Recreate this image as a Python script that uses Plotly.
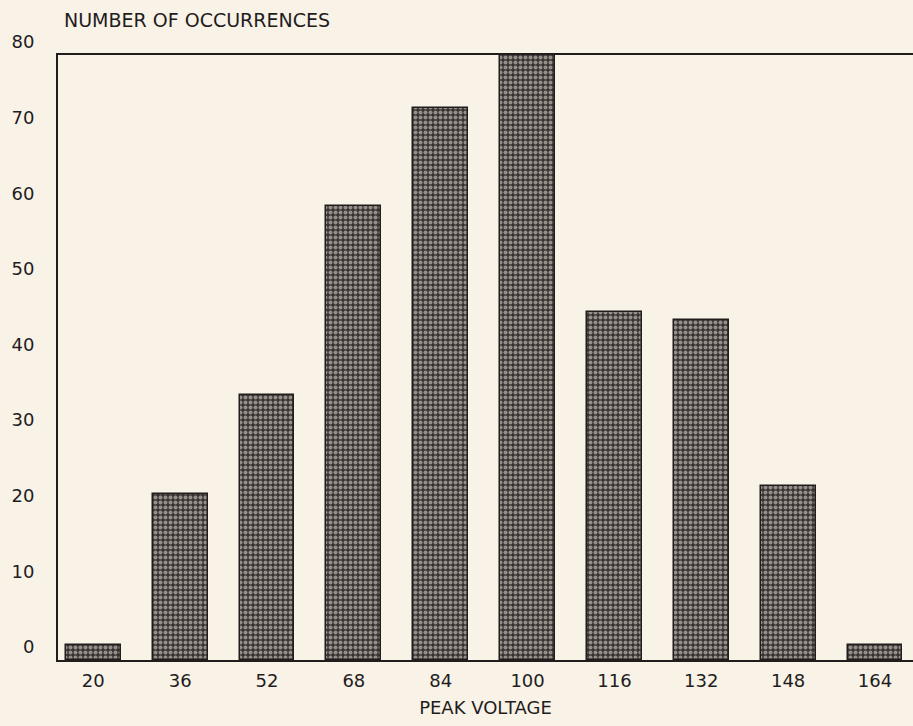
import plotly.graph_objects as go

peak_voltage = [20, 36, 52, 68, 84, 100, 116, 132, 148, 164]
occurrences = [2, 22, 35, 60, 73, 80, 46, 45, 23, 2]
y_ticks = [0, 10, 20, 30, 40, 50, 60, 70, 80]

bg = "#f8f2e7"
ink = "#231c1c"
bar_dark = "#3b3333"

fig = go.Figure(go.Bar(
    x=peak_voltage, y=occurrences, width=10.1,
    marker=dict(color=bar_dark,
                line=dict(color=ink, width=1.5),
                pattern=dict(shape=".", fgcolor="#f0ebe2", bgcolor=bar_dark,
                             size=5, solidity=0.5)),
))

fig.update_layout(
    width=913, height=726,
    paper_bgcolor=bg, plot_bgcolor=bg,
    margin=dict(l=58, r=0, t=55, b=66),
    font=dict(family="DejaVu Sans", size=18, color=ink),
    showlegend=False,
    bargap=0,
    annotations=[dict(text="NUMBER OF OCCURRENCES", xref="paper", yref="paper",
                      x=0, y=1, xanchor="left", yanchor="middle",
                      xshift=4, yshift=35, showarrow=False,
                      font=dict(size=19, color=ink))],
)
fig.update_xaxes(range=[13.5, 171], tickvals=peak_voltage,
                 ticktext=[str(v) for v in peak_voltage],
                 showline=True, linecolor=ink, linewidth=2, mirror=True,
                 showgrid=False, zeroline=False, ticks="",
                 ticklabelstandoff=3,
                 title=dict(text="PEAK VOLTAGE", standoff=12, font=dict(size=18)))
fig.update_yaxes(range=[0, 80], tickvals=y_ticks,
                 showline=True, linecolor=ink, linewidth=2,
                 showgrid=False, zeroline=False, ticks="",
                 ticklabelshift=-13, ticklabelstandoff=18)

fig.write_html("out.html", config={"displayModeBar": False},
               post_script="document.body.style.margin='0';")
